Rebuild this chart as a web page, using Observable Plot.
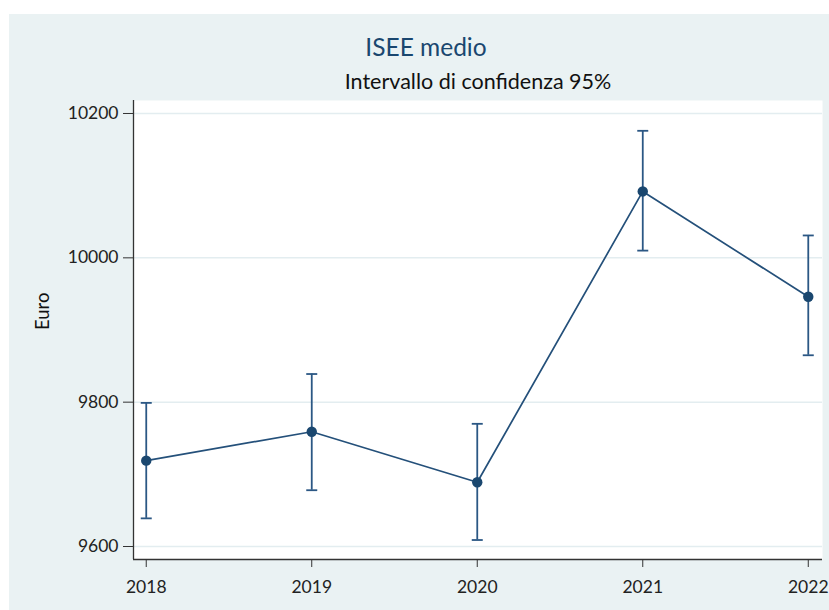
<!DOCTYPE html>
<html>
<head>
<meta charset="utf-8">
<script src="https://cdn.jsdelivr.net/npm/d3@7"></script>
<script src="https://cdn.jsdelivr.net/npm/@observablehq/plot@0.6"></script>
<style>
  html, body { margin: 0; padding: 0; background: #ffffff; }
  body { width: 829px; height: 610px; position: relative; overflow: hidden; font-family: Lato, "Open Sans", sans-serif; }
  #panel { position: absolute; left: 9px; top: 14px; width: 820px; height: 596px; background: #eaf2f3; }
  #title { position: absolute; left: 0; top: 21px; width: 820px; padding-left: 14px; box-sizing: border-box;
           text-align: center; font-size: 24.5px; color: #1a476f; line-height: 1; }
  #subtitle { position: absolute; left: 0; top: 57px; width: 820px; padding-left: 118px; box-sizing: border-box;
              text-align: center; font-size: 21.5px; color: #111; line-height: 1; }
  #chart { position: absolute; left: 0; top: 81px; }
</style>
</head>
<body>
<div id="panel">
  <div id="title">ISEE medio</div>
  <div id="subtitle">Intervallo di confidenza 95%</div>
  <div id="chart"></div>
</div>
<script>
// Mean ISEE by year with 95% confidence bounds
const years = [2018, 2019, 2020, 2021, 2022];
const means = [9719, 9759, 9689, 10092, 9946];
const lower = [9639, 9678, 9609, 10010, 9865];
const upper = [9799, 9839, 9770, 10176, 10031];

const yTicks = [9600, 9800, 10000, 10200];
const xTicks = [2018, 2019, 2020, 2021, 2022];
const xDomain = [2017.923, 2022.086];
const yDomain = [9582, 10218];

const rows = years.map((year, i) => ({year, mean: means[i], lo: lower[i], hi: upper[i]}));

const navy = "#1a476f";
const barColor = "#2b5784";

// horizontal stroke used as the cap of each confidence bar
const capSymbol = {
  draw(context, size) {
    const w = Math.sqrt(size / Math.PI);
    context.moveTo(-w, 0);
    context.lineTo(w, 0);
  }
};

const chart = Plot.plot({
  width: 820,
  height: 515,
  marginLeft: 124,
  marginRight: 7,
  marginTop: 5,
  marginBottom: 51,
  style: { fontFamily: "Lato, 'Open Sans', sans-serif", background: "transparent", color: "#222" },
  x: { domain: xDomain },
  y: { domain: yDomain },
  marks: [
    Plot.frame({ fill: "white", stroke: null }),
    Plot.gridY(yTicks, { stroke: "#e3edf0", strokeOpacity: 1, strokeWidth: 1.5 }),
    Plot.ruleX([xDomain[0]], { stroke: "#333", strokeWidth: 1.3 }),
    Plot.ruleY([yDomain[0]], { stroke: "#333", strokeWidth: 1.3 }),
    Plot.axisY(yTicks, {
      tickSize: 10, tickPadding: 5, tickFormat: d => String(d),
      fontSize: 17.5, stroke: "#333", label: null
    }),
    Plot.axisX(xTicks, {
      tickSize: 8, tickPadding: 13, tickFormat: d => String(d),
      fontSize: 17.5, stroke: "#333", label: null
    }),
    Plot.text(["Euro"], {
      frameAnchor: "left", dx: -90, rotate: -90, fontSize: 18.5, fill: "#111"
    }),
    Plot.ruleX(rows, { x: "year", y1: "lo", y2: "hi", stroke: barColor, strokeWidth: 1.8 }),
    Plot.dot(rows, { x: "year", y: "lo", symbol: capSymbol, r: 5.5, stroke: barColor, strokeWidth: 1.8, fill: "none" }),
    Plot.dot(rows, { x: "year", y: "hi", symbol: capSymbol, r: 5.5, stroke: barColor, strokeWidth: 1.8, fill: "none" }),
    Plot.line(rows, { x: "year", y: "mean", stroke: "#24507a", strokeWidth: 1.7 }),
    Plot.dot(rows, { x: "year", y: "mean", r: 5.2, fill: navy, stroke: null })
  ]
});

document.getElementById("chart").appendChild(chart);
</script>
</body>
</html>
